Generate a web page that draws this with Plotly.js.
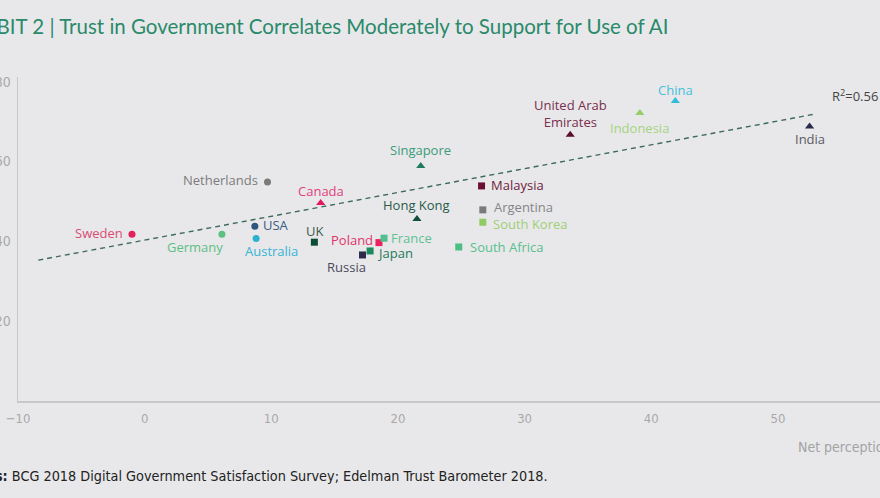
<!DOCTYPE html>
<html>
<head>
<meta charset="utf-8">
<script src="https://cdn.plot.ly/plotly-3.0.1.min.js"></script>
<style>
  html, body { margin: 0; padding: 0; background: #e8e8ea; }
  #chart { width: 880px; height: 498px; }
</style>
</head>
<body>
<div id="chart"></div>
<script>
// ---- Data ----
const countries = ["Sweden","Germany","USA","Australia","Netherlands","Canada","UK","Poland","France","Japan","Russia","Hong Kong","Singapore","Malaysia","Argentina","South Korea","South Africa","United Arab<br>Emirates","Indonesia","China","India"];
const netPerception = [-1.0, 6.1, 8.7, 8.8, 9.7, 13.9, 13.4, 18.5, 18.9, 17.8, 17.2, 21.5, 21.8, 26.6, 26.7, 26.7, 24.8, 33.6, 39.1, 41.9, 52.5];
const trustInGov = [41.8, 41.8, 43.8, 40.7, 54.9, 49.6, 39.8, 39.7, 40.8, 37.6, 36.6, 45.6, 58.9, 53.9, 47.9, 44.8, 38.6, 66.7, 72.2, 75.2, 68.8];
const trendX = [-8.4, 52.9];
const trendY = [35.3, 71.9];
const xTicks = [-10, 0, 10, 20, 30, 40, 50];
const yTicks = [20, 40, 60, 80];
const rSquared = "0.56";

// ---- Styles ----
const symbols = ["circle","circle","circle","circle","circle","triangle-up","square","square","square","square","square","triangle-up","triangle-up","square","square","square","square","triangle-up","triangle-up","triangle-up","triangle-up"];
const markerColors = ["#e2205b","#5cc083","#2e5580","#2bb0d0","#7a7a7a","#e3175b","#0b4d34","#ee2060","#4fc08d","#1b8a5e","#2c2c4f","#124f3c","#1f7d5c","#6a0f30","#7a7a7a","#8ecb62","#4bbd85","#5a0f2c","#98cd6a","#33bcd9","#2a2a4a"];
const labelColors = ["#d94c74","#5cbf85","#3c5c82","#36b4d4","#7c7c7c","#e0417a","#3d5a50","#e0336b","#5dc293","#1f7a5a","#4a4a5a","#2a5a4a","#3d9a7a","#6e2240","#858585","#9fcf76","#58bf8c","#7a2e50","#a5d47f","#45bfdc","#5a5a68"];
// label placement: [xanchor, xshift, yshift]
const labelPlace = [
  ["right", -7, 1], ["right", 3, -13], ["left", 6, 1], ["center", 15, -12],
  ["right", -8, 2], ["center", 0, 12], ["center", 0, 11], ["right", -4, 3],
  ["left", 5, 0], ["left", 5, -2], ["center", -16, -12], ["center", 0, 14],
  ["center", 0, 16], ["left", 7, 1], ["left", 9, 3], ["left", 8, -2],
  ["left", 9, 0], ["center", 0, 21], ["center", 0, -15], ["center", 0, 11],
  ["center", 0, -13]
];
const markerSizes = symbols.map(s => s === "triangle-up" ? 8 : 7);

const labelFont = "'Open Sans', 'Noto Sans', sans-serif";
const titleFont = "Lato, 'Open Sans', sans-serif";
const narrowFont = "'Liberation Sans Narrow', 'DejaVu Sans Condensed', sans-serif";

const traces = [
  {
    x: trendX, y: trendY, mode: "lines", type: "scatter",
    line: { color: "#3f6a5e", width: 1.4, dash: "5px,4px" },
    hoverinfo: "skip", showlegend: false
  },
  {
    x: netPerception, y: trustInGov, mode: "markers", type: "scatter",
    text: countries,
    marker: { symbol: symbols, color: markerColors, size: markerSizes, opacity: 1, line: { width: 0 } },
    showlegend: false
  }
];

const annotations = countries.map((c, i) => ({
  x: netPerception[i], y: trustInGov[i], xref: "x", yref: "y",
  text: c, showarrow: false,
  xanchor: labelPlace[i][0], yanchor: "middle",
  xshift: labelPlace[i][1], yshift: labelPlace[i][2],
  font: { family: labelFont, size: 13, color: labelColors[i] }
}));

// pixel helpers for paper coords (plot area x: 18..880, y: 77..400.7)
const px = p => (p - 18) / 862;
const py = p => (400.7 - p) / 323.7;

annotations.push({
  xref: "paper", yref: "paper", x: px(670), y: py(26),
  xanchor: "right", yanchor: "middle", showarrow: false,
  text: "EXHIBIT 2 | Trust in Government Correlates Moderately to Support for Use of AI",
  font: { family: titleFont, size: 20.5, color: "#2a8a6a" }
});
annotations.push({
  xref: "paper", yref: "paper", x: px(830), y: py(95),
  xanchor: "left", yanchor: "middle", showarrow: false,
  text: "R<sup>2</sup>=" + rSquared,
  font: { family: labelFont, size: 13, color: "#444444" }
});
annotations.push({
  xref: "paper", yref: "paper", x: px(796), y: py(447),
  xanchor: "left", yanchor: "middle", showarrow: false,
  text: "Net perception of AI",
  font: { family: narrowFont, size: 14, color: "#a3a3a3" }
});
annotations.push({
  xref: "paper", yref: "paper", x: px(550), y: py(476),
  xanchor: "right", yanchor: "middle", showarrow: false,
  text: "<b>Sources:</b> BCG 2018 Digital Government Satisfaction Survey; Edelman Trust Barometer 2018.",
  font: { family: narrowFont, size: 14.3, color: "#222222" }
});

const layout = {
  width: 880, height: 498,
  paper_bgcolor: "#e8e8ea", plot_bgcolor: "#e8e8ea",
  margin: { l: 18, r: 0, t: 77, b: 97.3, pad: 0 },
  xaxis: {
    range: [-10, 58.06], tickvals: xTicks, ticktext: xTicks.map(v => v < 0 ? "\u2212" + Math.abs(v) : String(v)),
    showgrid: false, zeroline: false, showline: true, linecolor: "#c8c8c8", linewidth: 1.5,
    ticks: "outside", ticklen: 5, tickcolor: "rgba(0,0,0,0)",
    tickfont: { family: narrowFont, size: 13, color: "#a8a8a8" }
  },
  yaxis: {
    range: [0, 81.2], tickvals: yTicks,
    showgrid: false, zeroline: false, showline: true, linecolor: "#c8c8c8", linewidth: 1.5,
    ticks: "outside", ticklen: 3, tickcolor: "rgba(0,0,0,0)",
    tickfont: { family: narrowFont, size: 14, color: "#a8a8a8" }
  },
  annotations: annotations,
  showlegend: false
};

Plotly.newPlot("chart", traces, layout, { displayModeBar: false, staticPlot: true });
</script>
</body>
</html>
